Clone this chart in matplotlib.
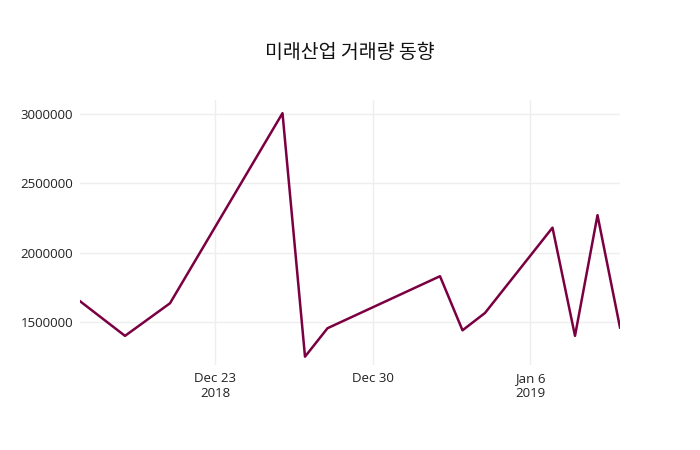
"""
Trading volume trend chart (plotly-like style)
"""

import numpy as np
import pandas as pd
import matplotlib.pyplot as plt
from matplotlib import font_manager

# data
dates = ['2018-12-17', '2018-12-19', '2018-12-21', '2018-12-26', '2018-12-27',
         '2018-12-28', '2019-01-02', '2019-01-03', '2019-01-04', '2019-01-07',
         '2019-01-08', '2019-01-09', '2019-01-10']
volume = [1650000, 1400000, 1635000, 3005000, 1250000,
          1455000, 1830000, 1440000, 1565000, 2180000,
          1400000, 2270000, 1460000]
yticks = [1500000, 2000000, 2500000, 3000000]
title = '미래산업 거래량 동향'

x = pd.to_datetime(dates)

# find a CJK font that matplotlib knows about
cjk = None
names = {f.name for f in font_manager.fontManager.ttflist}
for n in ['Noto Sans CJK KR', 'Noto Sans CJK JP', 'Noto Sans CJK SC', 'Noto Sans CJK TC']:
    if n in names:
        cjk = n
        break
title_font = {}
if cjk is not None:
    title_font['family'] = cjk
else:
    for f in font_manager.findSystemFonts():
        if 'CJK' in f:
            title_font['fontproperties'] = font_manager.FontProperties(fname=f)
            break

plt.rc('font', family='Open Sans')

fig = plt.figure(figsize=(7, 4.5), dpi=100)
ax = fig.add_axes([80/700, 1-365/450, 540/700, 265/450])

ax.plot(x, volume, color='#7b0041', linewidth=1.8)

ax.set_xlim(x[0], x[-1])
ax.set_ylim(1190000, 3100000)
ax.set_yticks(yticks)
ax.set_yticklabels([str(v) for v in yticks])

xt = pd.to_datetime(['2018-12-23', '2018-12-30', '2019-01-06'])
ax.set_xticks(xt)
ax.set_xticklabels(['Dec 23\n2018', 'Dec 30', 'Jan 6\n2019'])

ax.grid(True, color='#eeeeee', linewidth=1)
ax.set_axisbelow(True)
for s in ax.spines.values():
    s.set_visible(False)
ax.tick_params(length=0, labelsize=9.5, colors='#222222', pad=5)

if 'fontproperties' in title_font:
    fp = title_font['fontproperties']
    fp.set_size(14)
    fig.suptitle(title, y=1-42/450, fontproperties=fp, color='#111111')
else:
    fig.suptitle(title, y=1-42/450, fontsize=14, color='#111111', **title_font)

fig.savefig('out.png', dpi=100)
